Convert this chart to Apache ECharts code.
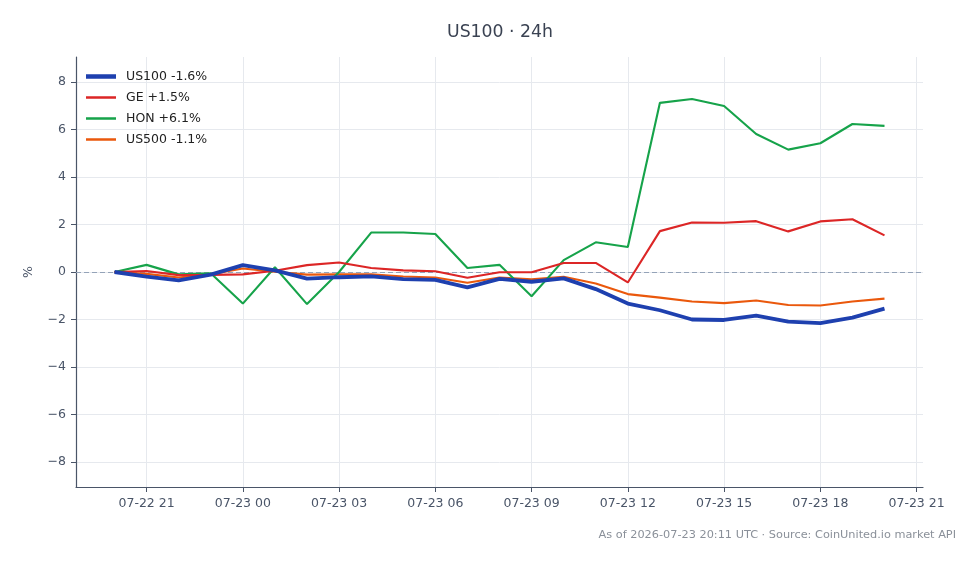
<!DOCTYPE html>
<html>
<head>
<meta charset="utf-8">
<script src="https://cdn.jsdelivr.net/npm/echarts@6/dist/echarts.min.js"></script>
<style>
html,body{margin:0;padding:0;background:#fff;}
#c{width:980px;height:564px;}
</style>
</head>
<body>
<div id="c"></div>
<script>
// ---- data ----
const times = [
  '2026-07-22 20:00','2026-07-22 21:00','2026-07-22 22:00','2026-07-22 23:00',
  '2026-07-23 00:00','2026-07-23 01:00','2026-07-23 02:00','2026-07-23 03:00',
  '2026-07-23 04:00','2026-07-23 05:00','2026-07-23 06:00','2026-07-23 07:00',
  '2026-07-23 08:00','2026-07-23 09:00','2026-07-23 10:00','2026-07-23 11:00',
  '2026-07-23 12:00','2026-07-23 13:00','2026-07-23 14:00','2026-07-23 15:00',
  '2026-07-23 16:00','2026-07-23 17:00','2026-07-23 18:00','2026-07-23 19:00',
  '2026-07-23 20:00'
];
const us100 = [0, -0.19, -0.35, -0.11, 0.29, 0.07, -0.28, -0.22, -0.18, -0.30, -0.33, -0.65, -0.29, -0.41, -0.27, -0.72, -1.33, -1.61, -2.00, -2.02, -1.84, -2.09, -2.15, -1.92, -1.54];
const ge    = [0, 0.04, -0.13, -0.12, -0.10, 0.05, 0.29, 0.40, 0.17, 0.07, 0.03, -0.24, -0.01, -0.01, 0.38, 0.38, -0.44, 1.72, 2.08, 2.07, 2.14, 1.71, 2.13, 2.22, 1.54];
const hon   = [0, 0.30, -0.10, -0.05, -1.33, 0.20, -1.35, 0.00, 1.66, 1.66, 1.60, 0.17, 0.30, -1.02, 0.50, 1.25, 1.05, 7.12, 7.28, 6.99, 5.81, 5.15, 5.42, 6.23, 6.15];
const us500 = [0, -0.08, -0.23, -0.09, 0.15, 0.01, -0.11, -0.10, -0.10, -0.19, -0.23, -0.45, -0.23, -0.31, -0.20, -0.48, -0.93, -1.08, -1.24, -1.31, -1.20, -1.39, -1.41, -1.24, -1.12];
const seriesNames = ['US100 -1.6%', 'GE +1.5%', 'HON +6.1%', 'US500 -1.1%'];
const xTickLabels = ['07-22 21','07-23 00','07-23 03','07-23 06','07-23 09','07-23 12','07-23 15','07-23 18','07-23 21'];
const yTicks = [-8, -6, -4, -2, 0, 2, 4, 6, 8];
const titleText = 'US100 · 24h';
const footerText = 'As of 2026-07-23 20:11 UTC · Source: CoinUnited.io market API';

// ---- helpers ----
const base = Date.UTC(2026, 6, 22, 0, 0);
function toHours(s) {
  const [d, t] = s.split(' ');
  const [Y, M, D] = d.split('-').map(Number);
  const [h, m] = t.split(':').map(Number);
  return (Date.UTC(Y, M - 1, D, h, m) - base) / 3600000;
}
function labelToHours(l) {
  const [md, h] = l.split(' ');
  return toHours('2026-' + md + ' ' + h + ':00');
}
const xs = times.map(toHours);
const xTickVals = xTickLabels.map(labelToHours);
function pairs(arr) { return arr.map((v, i) => [xs[i], v]); }
const span = xs[xs.length - 1] - xs[0];
const xMin = xs[0] - span * 0.05, xMax = xs[xs.length - 1] + span * 0.05;

const FONT = 'DejaVu Sans';
const axisColor = '#4a5568';
const gridColor = '#e6e9ee';
const tickLabelColor = '#4a5568';

const chart = echarts.init(document.getElementById('c'), null, {renderer: 'canvas'});
const colors = ['#1e40af', '#dc2626', '#16a34a', '#ea580c'];
const widths = [3.8, 2.1, 2.1, 2.1];
const dataSets = [us100, ge, hon, us500];

// legend icon: horizontal bar of given thickness centered in a 30x12 box
function barIcon(w) {
  const h = 12, t0 = (h - w) / 2, t1 = (h + w) / 2;
  return 'path://M0,0 L0.01,0 L0,0 Z M0,' + h + ' L0.01,' + h + ' L0,' + h + ' Z M0,' + t0 + ' L30,' + t0 + ' L30,' + t1 + ' L0,' + t1 + ' Z';
}

const series = dataSets.map((d, i) => ({
  name: seriesNames[i],
  type: 'line',
  data: pairs(d),
  symbol: 'none',
  showSymbol: false,
  smooth: false,
  z: 10 - i,
  lineStyle: {color: colors[i], width: widths[i]},
  itemStyle: {color: colors[i]},
  emphasis: {disabled: true},
  animation: false
}));
series[0].z = 20;
series[3].markLine = {
  silent: true,
  symbol: 'none',
  label: {show: false},
  lineStyle: {color: '#94a3b8', type: [5, 3], width: 1.1},
  data: [{yAxis: 0}],
  animation: false
};

chart.setOption({
  backgroundColor: '#ffffff',
  animation: false,
  title: {
    text: titleText,
    left: 442, top: 19,
    textStyle: {fontFamily: FONT, fontSize: 17.3, fontWeight: 'normal', color: '#3a4252'}
  },
  graphic: [{
    type: 'text', right: 24, top: 530,
    style: {text: footerText, fontFamily: FONT, fontSize: 11.3, fill: '#8a9099'}
  }],
  legend: {
    orient: 'vertical', left: 81, top: 65,
    itemWidth: 30, itemHeight: 12, itemGap: 8,
    textStyle: {fontFamily: FONT, fontSize: 12.5, color: '#222', padding: [0, 0, 0, 5]},
    data: seriesNames.map((n, i) => ({name: n, icon: barIcon(i === 0 ? 4.5 : 2.5), itemStyle: {color: colors[i], borderWidth: 0}})),
    selectedMode: false
  },
  grid: {left: 76, right: 57, top: 57, bottom: 77, containLabel: false},
  xAxis: {
    type: 'value', min: xMin, max: xMax,
    axisLine: {show: true, onZero: false, lineStyle: {color: axisColor, width: 1.2}},
    axisTick: {show: true, length: 5, customValues: xTickVals, lineStyle: {color: axisColor}},
    axisLabel: {
      customValues: xTickVals, margin: 10,
      fontFamily: FONT, fontSize: 12.5, color: tickLabelColor,
      formatter: v => {
        const i = xTickVals.findIndex(t => Math.abs(t - v) < 1e-6);
        return i >= 0 ? xTickLabels[i] : '';
      }
    },
    splitLine: {show: true, lineStyle: {color: gridColor, width: 1}}
  },
  yAxis: {
    type: 'value', min: -9.05, max: 9.05,
    name: '%', nameLocation: 'middle', nameGap: 41, nameRotate: 90,
    nameTextStyle: {fontFamily: FONT, fontSize: 12.5, color: tickLabelColor},
    axisLine: {show: true, onZero: false, lineStyle: {color: axisColor, width: 1.2}},
    axisTick: {show: true, length: 5, customValues: yTicks, lineStyle: {color: axisColor}},
    axisLabel: {
      customValues: yTicks, margin: 10,
      fontFamily: FONT, fontSize: 12.5, color: tickLabelColor,
      formatter: v => (v < 0 ? '\u2212' + Math.abs(v) : String(v))
    },
    splitLine: {show: true, lineStyle: {color: gridColor, width: 1}}
  },
  series: series
});
</script>
</body>
</html>
